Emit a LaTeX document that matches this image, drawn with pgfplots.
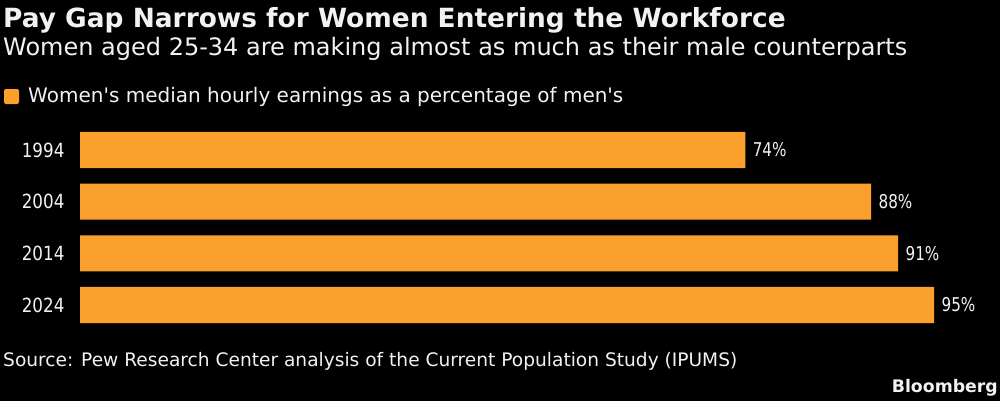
\documentclass[border=0pt]{standalone}
\usepackage{fontspec}
\setmainfont{DejaVu Sans}
\newfontfamily\narrowfont[FakeStretch=0.86]{DejaVu Sans}
\newfontfamily\narrowerfont[FakeStretch=0.8]{DejaVu Sans}
\usepackage{pgfplots}
\pgfplotsset{compat=1.18}
\definecolor{barorange}{HTML}{FBA02D}
\definecolor{txt}{HTML}{F2F2F2}
\begin{document}
\begin{tikzpicture}[x=1bp,y=1bp]
\fill[black] (0,0) rectangle (1000,401);
\node[anchor=base west,inner sep=0pt,text=txt,font=\fontsize{26.4bp}{30bp}\selectfont\bfseries] at (3,374) {Pay Gap Narrows for Women Entering the Workforce};
\node[anchor=base west,inner sep=0pt,text=txt,font=\fontsize{24bp}{28bp}\selectfont] at (3,346) {Women aged 25-34 are making almost as much as their male counterparts};
\fill[barorange,rounded corners=2bp] (4,297) rectangle (19,312);
\node[anchor=base west,inner sep=0pt,text=txt,font=\fontsize{20bp}{24bp}\selectfont] at (28,299) {Women\textquotesingle s median hourly earnings as a percentage of men\textquotesingle s};
\begin{axis}[
  at={(80bp,70.1bp)}, anchor=south west,
  scale only axis, width=899bp, height=206.8bp,
  xmin=0, xmax=100, ymin=-0.5, ymax=3.5, y dir=reverse,
  xbar, bar width=0.70,
  axis line style={draw=none}, xtick=\empty,
  ytick={0,1,2,3}, yticklabels={1994,2004,2014,2024},
  major tick length=0pt,
  /pgf/number format/assume math mode=true,
  yticklabel style={text=txt,font=\narrowfont\fontsize{19.5bp}{22bp}\selectfont, xshift=-12bp},
  nodes near coords={\pgfmathprintnumber{\pgfplotspointmeta}\%},
  nodes near coords style={text=txt,font=\narrowerfont\fontsize{19bp}{22bp}\selectfont, anchor=west, xshift=4bp},
  clip=false,
]
\addplot[fill=barorange, draw=none] coordinates {(74,0) (88,1) (91,2) (95,3)};
\end{axis}
\node[anchor=base west,inner sep=0pt,text=txt,font=\fontsize{18.6bp}{24bp}\selectfont] at (3,35) {Source: Pew Research Center analysis of the Current Population Study (IPUMS)};
\node[anchor=base east,inner sep=0pt,text=txt,font=\fontsize{17.3bp}{22bp}\selectfont\bfseries] at (998,9) {Bloomberg};
\end{tikzpicture}
\end{document}
